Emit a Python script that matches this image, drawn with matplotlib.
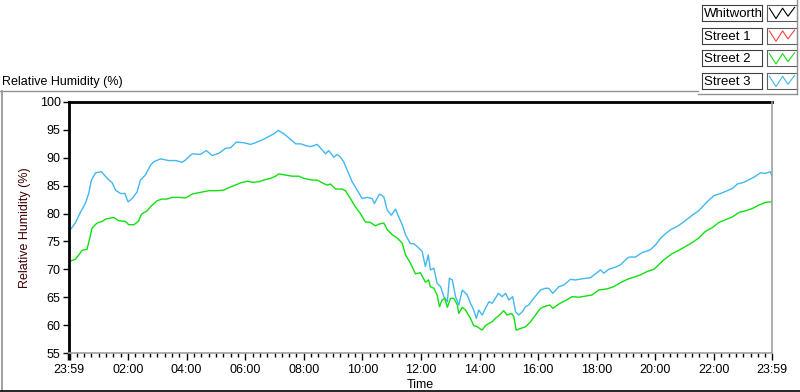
import numpy as np
import matplotlib.pyplot as plt
from matplotlib.lines import Line2D
from matplotlib.ticker import FixedLocator

plt.rcParams['font.family'] = ['Liberation Sans', 'DejaVu Sans']

# hours after midnight (23:59 of the previous day = -1/60)
street3_time = [-0.017, 0.20, 0.38, 0.55, 0.66, 0.75, 0.89, 1.09, 1.29, 1.46, 1.57, 1.74, 1.89, 2.00,
                2.14, 2.31, 2.42, 2.59, 2.77, 2.88, 3.11, 3.39, 3.62, 3.85, 3.96, 4.10, 4.19, 4.47,
                4.67, 4.87, 5.10, 5.33, 5.50, 5.69, 5.95, 6.18, 6.35, 6.58, 6.80, 6.98, 7.13, 7.32,
                7.55, 7.72, 7.89, 8.06, 8.23, 8.46, 8.63, 8.74, 8.85, 9.02, 9.14, 9.25, 9.36, 9.48,
                9.65, 9.82, 9.99, 10.16, 10.33, 10.41, 10.58, 10.73, 10.85, 10.99, 11.13, 11.24,
                11.36, 11.47, 11.64, 11.75, 11.87, 12.04, 12.15, 12.25, 12.32, 12.44, 12.55, 12.67,
                12.78, 12.90, 12.97, 13.07, 13.18, 13.29, 13.41, 13.58, 13.69, 13.80, 13.89, 13.97,
                14.09, 14.20, 14.32, 14.43, 14.54, 14.64, 14.77, 14.89, 15.00, 15.13, 15.23, 15.34,
                15.46, 15.57, 15.68, 15.80, 15.91, 16.08, 16.25, 16.36, 16.50, 16.71, 16.88, 17.10,
                17.28, 17.50, 17.79, 17.96, 18.13, 18.24, 18.41, 18.64, 18.81, 18.98, 19.10, 19.32,
                19.55, 19.83, 20.01, 20.18, 20.35, 20.52, 20.75, 20.97, 21.14, 21.31, 21.48, 21.66,
                21.83, 22.00, 22.23, 22.45, 22.63, 22.80, 23.02, 23.25, 23.42, 23.59, 23.76, 23.93,
                23.98]
street3_rh = [76.8, 78.3, 80.3, 81.9, 83.7, 86.0, 87.3, 87.5, 86.3, 85.5, 84.2, 83.6, 83.6, 82.1,
              82.7, 83.9, 86.0, 86.9, 88.7, 89.3, 89.8, 89.5, 89.5, 89.2, 89.6, 90.3, 90.7, 90.6,
              91.3, 90.4, 90.8, 91.7, 91.8, 92.8, 92.7, 92.4, 92.7, 93.2, 93.8, 94.3, 94.9, 94.3,
              93.3, 92.5, 92.5, 92.2, 92.0, 92.4, 91.4, 90.7, 91.3, 90.1, 90.6, 90.1, 89.3, 87.8,
              85.7, 84.2, 82.7, 82.9, 82.7, 81.8, 83.5, 83.0, 80.6, 79.7, 80.8, 79.4,
              78.0, 76.2, 74.6, 74.6, 74.1, 73.2, 70.5, 72.6, 69.9, 70.2, 67.5, 66.9,
              65.1, 64.2, 68.4, 68.1, 65.1, 63.6, 66.3, 65.4, 63.9, 62.7, 61.2, 62.7,
              61.8, 63.0, 64.2, 63.9, 64.8, 65.7, 65.1, 65.7, 64.5, 65.1, 62.4, 61.8,
              62.4, 63.3, 63.6, 64.5, 65.2, 66.3, 66.6, 66.6, 65.7, 66.9, 67.2, 68.2,
              68.1, 68.3, 68.5, 69.2, 69.9, 69.3, 70.0, 70.4, 70.8, 71.7, 72.2, 72.2,
              73.0, 73.5, 74.4, 75.6, 76.4, 77.1, 77.7, 78.5, 79.2, 79.9, 80.5, 81.5,
              82.4, 83.2, 83.6, 84.1, 84.5, 85.3, 85.6, 86.2, 86.7, 87.3, 87.2, 87.5,
              86.7]

street2_time = [-0.017, 0.20, 0.32, 0.43, 0.60, 0.72, 0.77, 0.94, 1.12, 1.23, 1.51, 1.68, 1.91, 2.02,
                2.20, 2.35, 2.46, 2.65, 2.80, 2.99, 3.16, 3.33, 3.50, 3.73, 3.96, 4.10, 4.19, 4.47,
                4.76, 5.04, 5.27, 5.38, 5.61, 5.84, 6.07, 6.24, 6.46, 6.63, 6.86, 7.03, 7.15, 7.37,
                7.60, 7.83, 8.00, 8.19, 8.29, 8.46, 8.63, 8.80, 8.91, 9.08, 9.31, 9.42, 9.59, 9.76,
                9.93, 10.10, 10.27, 10.45, 10.56, 10.73, 10.85, 11.02, 11.19, 11.36, 11.47, 11.64,
                11.81, 11.98, 12.15, 12.26, 12.32, 12.44, 12.55, 12.63, 12.72, 12.81, 12.90, 13.01,
                13.12, 13.24, 13.29, 13.41, 13.52, 13.69, 13.80, 13.92, 14.09, 14.20, 14.32, 14.43,
                14.54, 14.68, 14.82, 14.94, 15.09, 15.17, 15.25, 15.40, 15.57, 15.74, 15.91, 16.08,
                16.25, 16.40, 16.50, 16.71, 16.93, 17.16, 17.39, 17.61, 17.84, 18.07, 18.36, 18.58,
                18.81, 19.04, 19.26, 19.49, 19.72, 19.95, 20.11, 20.29, 20.57, 20.80, 21.03, 21.26,
                21.48, 21.71, 21.95, 22.17, 22.40, 22.63, 22.86, 23.08, 23.31, 23.53, 23.76, 23.97]
street2_rh = [71.4, 71.8, 72.6, 73.4, 73.6, 76.2, 77.4, 78.3, 78.6, 79.0, 79.3, 78.7, 78.6, 78.0,
              78.0, 78.6, 79.9, 80.5, 81.4, 82.3, 82.6, 82.6, 82.9, 82.9, 82.8, 83.2, 83.5, 83.8,
              84.1, 84.1, 84.2, 84.5, 85.0, 85.5, 85.8, 85.6, 85.7, 86.0, 86.3, 86.7, 87.1, 86.9,
              86.7, 86.7, 86.3, 86.1, 86.0, 86.0, 85.5, 85.1, 85.3, 84.4, 84.4, 84.1, 82.7, 81.2,
              80.0, 78.5, 78.4, 77.8, 78.1, 78.3, 77.1, 76.2, 75.6, 74.7, 72.6, 71.1,
              69.2, 69.4, 67.7, 68.1, 66.9, 66.6, 65.4, 63.3, 64.5, 64.8, 63.2, 64.8,
              64.8, 63.6, 62.1, 63.2, 62.7, 61.2, 59.9, 59.7, 59.1, 59.9, 60.3, 60.6,
              61.2, 61.8, 62.6, 61.8, 62.1, 61.5, 59.1, 59.4, 59.7, 60.6, 61.8, 63.0,
              63.4, 63.6, 63.0, 63.8, 64.4, 65.1, 65.0, 65.2, 65.4, 66.3, 66.5, 66.9,
              67.6, 68.2, 68.6, 69.0, 69.6, 70.0, 70.8, 71.7, 72.8, 73.4, 74.1, 74.8,
              75.6, 76.8, 77.5, 78.4, 78.9, 79.4, 80.2, 80.5, 80.9, 81.5, 82.0, 82.1]

legend_names = ['Whitworth', 'Street 1', 'Street 2', 'Street 3']
legend_colors = ['#000000', '#ff4040', '#10e010', '#40b8f0']

x_tick_pos = [-1 / 60, 2, 4, 6, 8, 10, 12, 14, 16, 18, 20, 22, 24 - 1 / 60]
x_tick_labels = ['23:59', '02:00', '04:00', '06:00', '08:00', '10:00', '12:00',
                 '14:00', '16:00', '18:00', '20:00', '22:00', '23:59']
y_ticks = [55, 60, 65, 70, 75, 80, 85, 90, 95, 100]

W, H = 800, 392
fig = plt.figure(figsize=(W / 100, H / 100), dpi=100)


def box(x0, y0, x1, y1):
    # pixel box (top-left origin) -> figure fraction rect
    return [x0 / W, 1 - y1 / H, (x1 - x0) / W, (y1 - y0) / H]


ax = fig.add_axes(box(69, 102, 772, 353))
ax.plot(street3_time, street3_rh, color=legend_colors[3], lw=1.0)
ax.plot(street2_time, street2_rh, color=legend_colors[2], lw=1.0)
ax.set_xlim(-1 / 60, 24 - 1 / 60)
ax.set_ylim(55, 100)
ax.set_yticks(y_ticks)
ax.set_xticks(x_tick_pos)
ax.set_xticklabels(x_tick_labels)
ax.xaxis.set_minor_locator(FixedLocator(np.arange(0.25, 24, 0.25)))
ax.tick_params(axis='both', labelsize=9, color='black')
ax.tick_params(axis='x', which='major', length=5, width=1, pad=3)
ax.tick_params(axis='x', which='minor', length=3, width=1)
ax.tick_params(axis='y', length=4, width=1, pad=2)
ax.xaxis.get_major_ticks()[0].tick1line.set_markeredgewidth(2.5)
for s in ['top', 'left']:
    ax.spines[s].set_color('black')
    ax.spines[s].set_linewidth(2)
for s in ['bottom', 'right']:
    ax.spines[s].set_color('#a0a0a0')
    ax.spines[s].set_linewidth(1.2)
ax.spines['top'].set_zorder(1)
ax.set_xlabel('Time', fontsize=9, labelpad=2)
ax.set_ylabel('Relative Humidity (%)', fontsize=9, color='#400000', labelpad=6)

fig.text(2 / W, 1 - 82 / H, 'Relative Humidity (%)', fontsize=9, va='center', ha='left')

# frame lines
fig.add_artist(Line2D([0, 698 / W], [1 - 91 / H] * 2, color='#909090', lw=1))
fig.add_artist(Line2D([698 / W, 797 / W], [1 - 94 / H] * 2, color='#909090', lw=1))
fig.add_artist(Line2D([797 / W] * 2, [1, 1 - 94 / H], color='#909090', lw=1))
fig.add_artist(Line2D([1.5 / W] * 2, [1 - 91 / H, 1 - 390 / H], color='#909090', lw=1.2))
fig.add_artist(Line2D([0, 1], [1 - 390.5 / H] * 2, color='black', lw=1.2))

# legend boxes
for i, (name, col) in enumerate(zip(legend_names, legend_colors)):
    top = 5 + 22.7 * i
    tax = fig.add_axes(box(702, top, 762, top + 16))
    tax.set_xticks([])
    tax.set_yticks([])
    for s in tax.spines.values():
        s.set_color('#404040')
        s.set_linewidth(0.8)
    tax.text(0.04, 0.45, name, fontsize=9.5, va='center', ha='left', transform=tax.transAxes)
    sax = fig.add_axes(box(767, top, 797, top + 16))
    sax.set_xticks([])
    sax.set_yticks([])
    sax.set_xlim(0, 1)
    sax.set_ylim(0, 1)
    for s in sax.spines.values():
        s.set_color('#606060')
        s.set_linewidth(0.8)
    sax.plot([0.08, 0.3, 0.52, 0.7, 0.92], [0.8, 0.15, 0.8, 0.3, 0.85], color=col, lw=0.8)

fig.savefig('out.png', dpi=100)
